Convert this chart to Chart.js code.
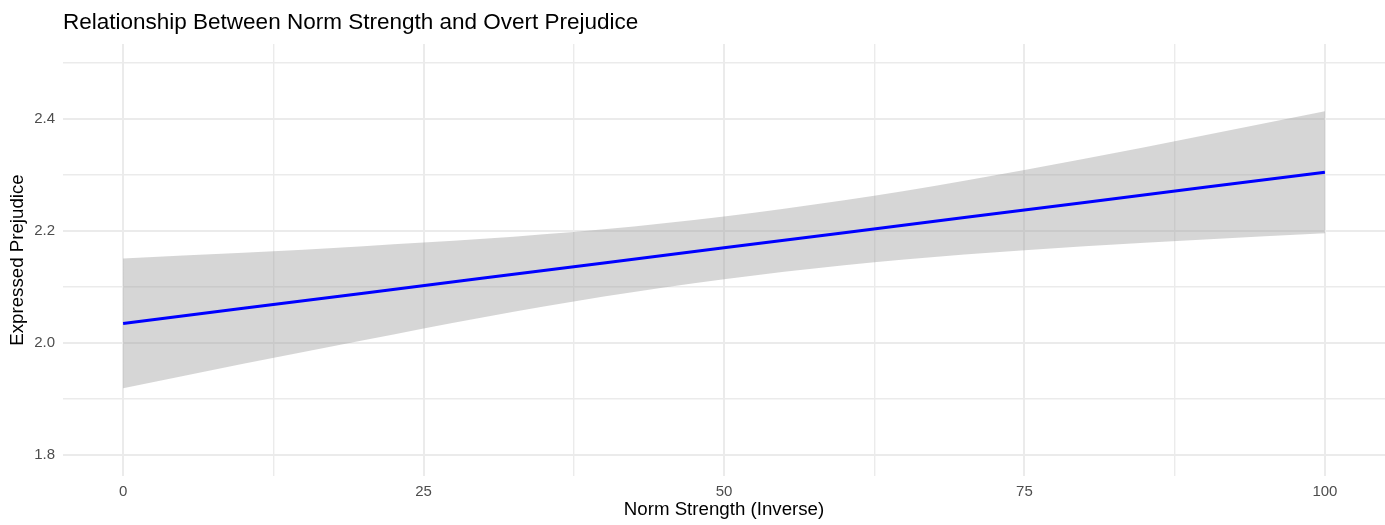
<!DOCTYPE html>
<html>
<head>
<meta charset="utf-8">
<script src="https://cdn.jsdelivr.net/npm/chart.js@4"></script>
<style>
    html, body { margin: 0; padding: 0; background: #fff; }
    canvas { display: block; }
</style>
</head>
<body>
<canvas id="chart" width="1385" height="525"></canvas>
<script>
// Valores (reta ajustada e intervalo de confiança)
const normStrength = [0, 10, 20, 30, 40, 50, 60, 70, 80, 90, 100];
const fitted = [2.035, 2.062, 2.089, 2.116, 2.143, 2.170, 2.197, 2.224, 2.251, 2.278, 2.305];
const upperCI = [2.151, 2.161, 2.173, 2.186, 2.203, 2.226, 2.255, 2.290, 2.329, 2.371, 2.414];
const lowerCI = [1.919, 1.963, 2.005, 2.046, 2.083, 2.114, 2.139, 2.158, 2.173, 2.185, 2.196];

// Ticks (principais com rótulo, secundários só com grade)
const xTicks = [0, 12.5, 25, 37.5, 50, 62.5, 75, 87.5, 100];
const xLabels = [0, 25, 50, 75, 100];
const yTicks = [1.8, 1.9, 2.0, 2.1, 2.2, 2.3, 2.4, 2.5];
const yLabels = [1.8, 2.0, 2.2, 2.4];

const FONT = '"Liberation Sans", Arial, Helvetica, sans-serif';
Chart.defaults.font.family = FONT;

const hasValue = (list, v) => list.some(t => Math.abs(t - v) < 1e-6);
const toPoints = (ys) => normStrength.map((x, i) => ({ x: x, y: ys[i] }));

const gridWidth = (labels) => (ctx) => hasValue(labels, ctx.tick.value) ? 2 : 1.4;

new Chart(document.getElementById('chart'), {
    type: 'line',
    data: {
        datasets: [
            {
                label: 'fit',
                data: toPoints(fitted),
                borderColor: '#0000ff',
                borderWidth: 3,
                pointRadius: 0,
                fill: false,
                order: 0
            },
            {
                label: 'upper',
                data: toPoints(upperCI),
                borderWidth: 0,
                borderColor: 'rgba(0,0,0,0)',
                backgroundColor: 'rgba(153, 153, 153, 0.4)',
                pointRadius: 0,
                cubicInterpolationMode: 'monotone',
                fill: '+1',
                order: 1
            },
            {
                label: 'lower',
                data: toPoints(lowerCI),
                borderWidth: 0,
                borderColor: 'rgba(0,0,0,0)',
                pointRadius: 0,
                cubicInterpolationMode: 'monotone',
                fill: false,
                order: 2
            }
        ]
    },
    options: {
        responsive: false,
        animation: false,
        layout: { padding: 0 },
        plugins: {
            legend: { display: false },
            tooltip: { enabled: false },
            title: {
                display: true,
                text: 'Relationship Between Norm Strength and Overt Prejudice',
                align: 'start',
                fullSize: false,
                color: '#000',
                font: { size: 22.5, weight: 'normal', family: FONT },
                padding: { top: 9.5, bottom: 7.5 }
            }
        },
        scales: {
            x: {
                type: 'linear',
                min: -5,
                max: 105,
                afterBuildTicks: (scale) => { scale.ticks = xTicks.map(v => ({ value: v })); },
                afterFit: (scale) => { scale.height = 49; },
                border: { display: false },
                grid: {
                    color: '#ebebeb',
                    lineWidth: gridWidth(xLabels),
                    drawTicks: false
                },
                ticks: {
                    autoSkip: false,
                    maxRotation: 0,
                    padding: 7,
                    color: '#4d4d4d',
                    font: { size: 15 },
                    callback: (value) => hasValue(xLabels, value) ? String(value) : ''
                },
                title: {
                    display: true,
                    text: 'Norm Strength (Inverse)',
                    color: '#000',
                    font: { size: 18.7 },
                    padding: { top: 0, bottom: 3.8 }
                }
            },
            y: {
                type: 'linear',
                min: 1.7625,
                max: 2.534,
                afterBuildTicks: (scale) => { scale.ticks = yTicks.map(v => ({ value: v })); },
                afterFit: (scale) => { scale.width = 63; },
                border: { display: false },
                grid: {
                    color: '#ebebeb',
                    lineWidth: gridWidth(yLabels),
                    drawTicks: false
                },
                ticks: {
                    autoSkip: false,
                    padding: 8,
                    color: '#4d4d4d',
                    font: { size: 15 },
                    callback: (value) => hasValue(yLabels, value) ? value.toFixed(1) : ''
                },
                title: {
                    display: true,
                    text: 'Expressed Prejudice',
                    color: '#000',
                    font: { size: 18.7 },
                    padding: { top: 6.8, bottom: 0 }
                }
            }
        }
    }
});
</script>
</body>
</html>
